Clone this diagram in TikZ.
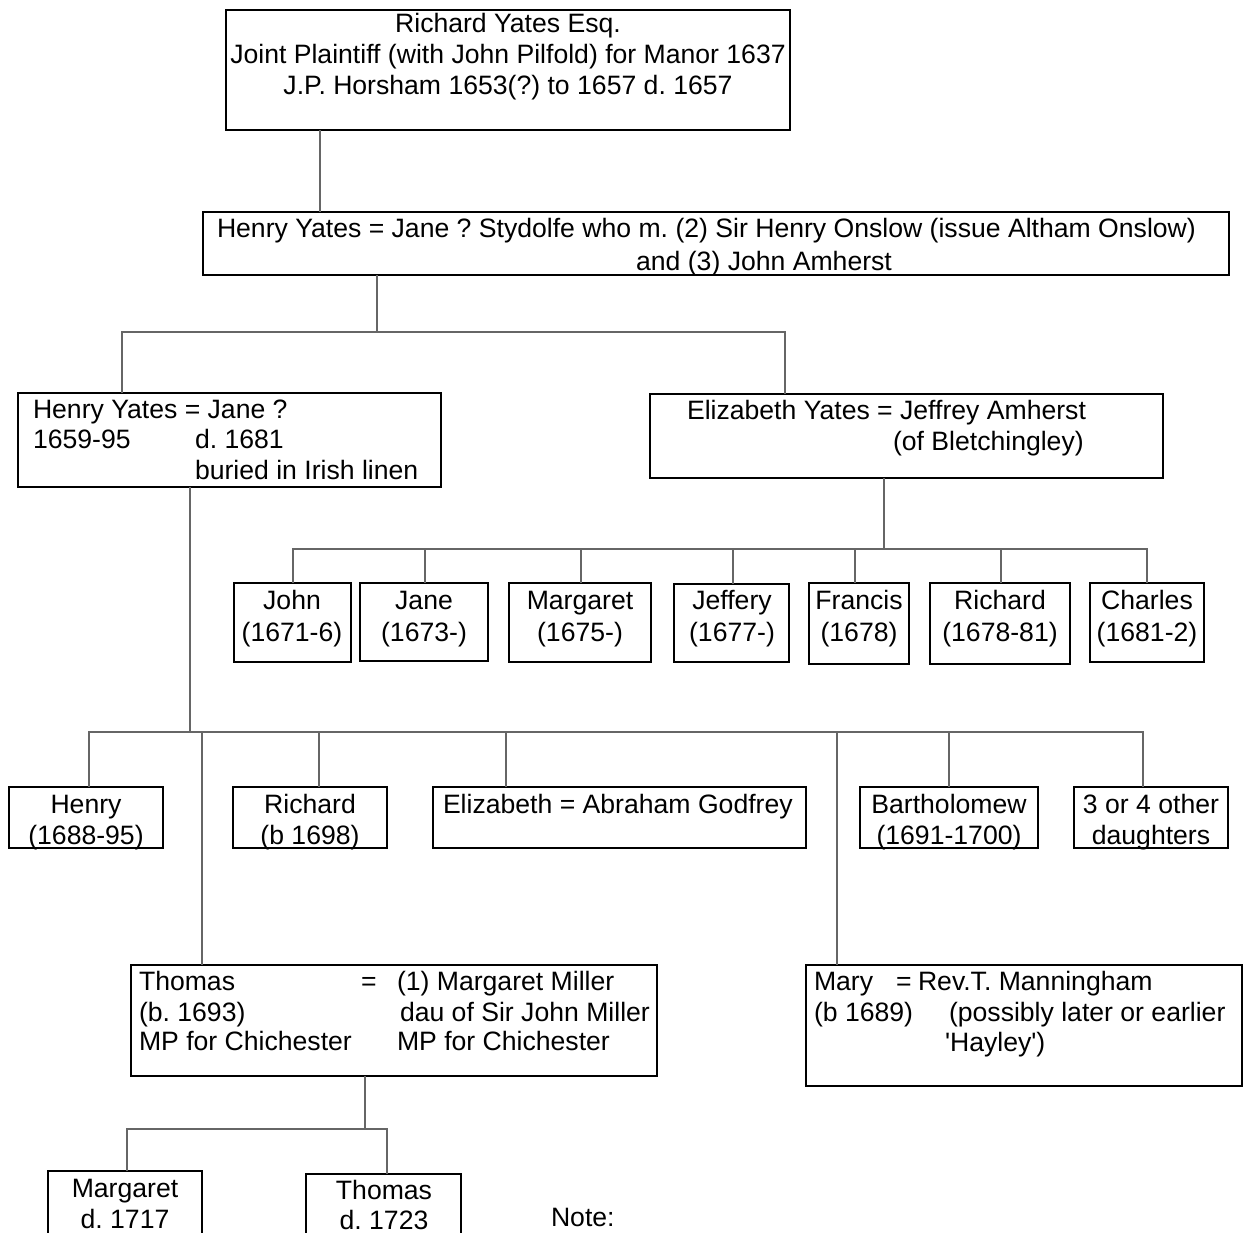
\documentclass[tikz,border=0pt]{standalone}
\usepackage{fontspec}
\setmainfont{Liberation Sans}
\frenchspacing
\begin{document}
\begin{tikzpicture}[x=1pt,y=-1pt,
  box/.style={draw=black, line width=1.4pt, inner sep=0pt, outer sep=0pt, anchor=north west},
  txt/.style={inner sep=0pt, outer sep=0pt, font=\fontsize{26.6}{31}\selectfont},
  ctr/.style={txt, anchor=base},
  lft/.style={txt, anchor=base west},
  conn/.style={draw=black!60, line width=1.2pt}]
\clip (0,0) rectangle (1244,1233);
\fill[white] (0,0) rectangle (1244,1233);

% ---------- generation 1 ----------
\node[box, minimum width=564pt, minimum height=120pt] (r1) at (226,10) {};
\node[ctr] (r1a) at (508,33) {Richard Yates Esq.};
\node[ctr] (r1b) at (508,64) {Joint Plaintiff (with John Pilfold) for Manor 1637};
\node[ctr] (r1c) at (508,95) {J.P. Horsham 1653(?) to 1657 d. 1657};

% ---------- generation 2 ----------
\node[box, minimum width=1026pt, minimum height=63pt] (hy) at (203,212) {};
\node[lft] (hya) at (217,238) {Henry Yates = Jane ? Stydolfe who m. (2) Sir Henry Onslow (issue Altham Onslow)};
\node[ctr] (hyb) at (764,270) {and (3) John Amherst};

% ---------- generation 3 ----------
\node[box, minimum width=423pt, minimum height=94pt] (hy2) at (18,393) {};
\node[lft] (hy2a) at (33,418) {Henry Yates = Jane ?};
\node[lft] (hy2b) at (33,448) {1659-95};
\node[lft] (hy2c) at (195,448) {d. 1681};
\node[lft] (hy2d) at (195,479) {buried in Irish linen};

\node[box, minimum width=513pt, minimum height=84pt] (ey) at (650,394) {};
\node[lft] (eya) at (687,419) {Elizabeth Yates = Jeffrey Amherst};
\node[lft] (eyb) at (893,450) {(of Bletchingley)};

% ---------- Amherst children ----------
\node[box, minimum width=117pt, minimum height=79pt] (john) at (234,583) {};
\node[ctr] (johna) at (292,609) {John};
\node[ctr] (johnb) at (292,641) {(1671-6)};
\node[box, minimum width=128pt, minimum height=78pt] (jane) at (360,583) {};
\node[ctr] (janea) at (424,609) {Jane};
\node[ctr] (janeb) at (424,641) {(1673-)};
\node[box, minimum width=142pt, minimum height=79pt] (marg) at (509,583) {};
\node[ctr] (marga) at (580,609) {Margaret};
\node[ctr] (margb) at (580,641) {(1675-)};
\node[box, minimum width=115pt, minimum height=78pt] (jeff) at (674,584) {};
\node[ctr] (jeffa) at (732,609) {Jeffery};
\node[ctr] (jeffb) at (732,641) {(1677-)};
\node[box, minimum width=100pt, minimum height=81pt] (fran) at (809,583) {};
\node[ctr] (frana) at (859,609) {Francis};
\node[ctr] (franb) at (859,641) {(1678)};
\node[box, minimum width=140pt, minimum height=81pt] (rich) at (930,583) {};
\node[ctr] (richa) at (1000,609) {Richard};
\node[ctr] (richb) at (1000,641) {(1678-81)};
\node[box, minimum width=114pt, minimum height=79pt] (char) at (1090,583) {};
\node[ctr] (chara) at (1147,609) {Charles};
\node[ctr] (charb) at (1147,641) {(1681-2)};

% ---------- Yates children ----------
\node[box, minimum width=154pt, minimum height=61pt] (hen) at (9,787) {};
\node[ctr] (hena) at (86,813) {Henry};
\node[ctr] (henb) at (86,844) {(1688-95)};
\node[box, minimum width=154pt, minimum height=61pt] (ric) at (233,787) {};
\node[ctr] (rica) at (310,813) {Richard};
\node[ctr] (ricb) at (310,844) {(b 1698)};
\node[box, minimum width=373pt, minimum height=61pt] (eli) at (433,787) {};
\node[lft] (elia) at (443,813) {Elizabeth = Abraham Godfrey};
\node[box, minimum width=178pt, minimum height=61pt] (bar) at (860,787) {};
\node[ctr] (bara) at (949,813) {Bartholomew};
\node[ctr] (barb) at (949,844) {(1691-1700)};
\node[box, minimum width=154pt, minimum height=61pt] (oth) at (1074,787) {};
\node[ctr] (otha) at (1151,813) {3 or 4 other};
\node[ctr] (othb) at (1151,844) {daughters};

\node[box, minimum width=526pt, minimum height=111pt] (tho) at (131,965) {};
\node[lft] (thoa) at (139,990) {Thomas};
\node[lft] (thob) at (361,990) {=};
\node[lft] (thoc) at (397,990) {(1) Margaret Miller};
\node[lft] (thod) at (139,1021) {(b. 1693)};
\node[lft] (thoe) at (400,1021) {dau of Sir John Miller};
\node[lft] (thof) at (139,1050) {MP for Chichester};
\node[lft] (thog) at (397,1050) {MP for Chichester};

\node[box, minimum width=436pt, minimum height=121pt] (mary) at (806,965) {};
\node[lft] (marya) at (814,990) {Mary};
\node[lft] (maryb) at (896,990) {=};
\node[lft] (maryc) at (918,990) {Rev.T. Manningham};
\node[lft] (maryd) at (814,1021) {(b 1689)};
\node[lft] (marye) at (949,1021) {(possibly later or earlier};
\node[lft] (maryf) at (945,1051) {\textquotesingle Hayley\textquotesingle)};

% ---------- grandchildren ----------
\node[box, minimum width=154pt, minimum height=100pt] (marg3) at (48,1171) {};
\node[ctr] (marg3a) at (125,1197) {Margaret};
\node[ctr] (marg3b) at (125,1228) {d. 1717};
\node[box, minimum width=155pt, minimum height=100pt] (tho3) at (306,1174) {};
\node[ctr] (tho3a) at (384,1199) {Thomas};
\node[ctr] (tho3b) at (384,1229) {d. 1723};

\node[lft] (note) at (551,1226) {Note:};

% ---------- connectors ----------
\coordinate (d1) at (320,0);
\draw[conn] (r1.south -| d1) -- (hy.north -| d1);

\coordinate (b2) at (377,332);
\coordinate (b2l) at (122,332);
\coordinate (b2r) at (785,332);
\draw[conn] (hy.south -| b2) -- (b2);
\draw[conn] (hy2.north -| b2l) -- (b2l) -- (b2r) -- (ey.north -| b2r);

\coordinate (b3) at (884,549);
\draw[conn] (ey.south -| b3) -- (b3);
\draw[conn] (john.north -| 293,0) -- (293,549) -- (1147,549) -- (char.north -| 1147,0);
\foreach \cx/\cn in {425/jane, 581/marg, 733/jeff, 855/fran, 1001/rich}
  \draw[conn] (\cx,549) -- (\cn.north -| \cx,0);

\coordinate (b4) at (190,732);
\draw[conn] (hy2.south -| b4) -- (b4);
\draw[conn] (hen.north -| 89,0) -- (89,732) -- (1143,732) -- (oth.north -| 1143,0);
\foreach \cx/\cn in {202/tho, 319/ric, 506/eli, 837/mary, 949/bar}
  \draw[conn] (\cx,732) -- (\cn.north -| \cx,0);

\coordinate (b5) at (365,1129);
\draw[conn] (tho.south -| b5) -- (b5);
\draw[conn] (marg3.north -| 127,0) -- (127,1129) -- (387,1129) -- (tho3.north -| 387,0);
\end{tikzpicture}
\end{document}
